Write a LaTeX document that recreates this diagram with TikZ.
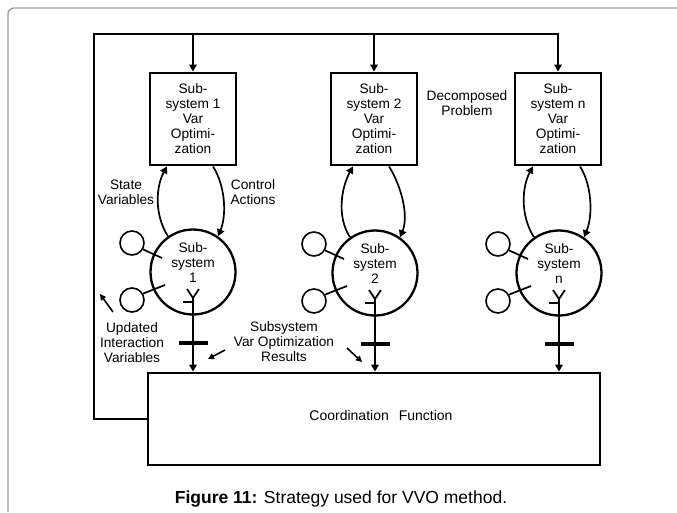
\documentclass[tikz,border=0pt]{standalone}
\usepackage{fontspec}
\setmainfont{Liberation Sans}
\usetikzlibrary{arrows.meta,calc}

\begin{document}
\begin{tikzpicture}[x=1pt,y=-1pt,
  lbl/.style={font=\fontsize{13.7}{15}\selectfont, align=center, inner sep=0pt},
  optbox/.style={draw, line width=2.8pt, minimum width=86pt, minimum height=92pt, inner sep=0pt, lbl},
  subsys/.style={draw, circle, line width=2.3pt, minimum size=85pt, inner sep=0pt},
  port/.style={draw, circle, line width=1.6pt, minimum size=24pt, inner sep=0pt},
  wire/.style={line width=1.7pt},
  tip/.style={-{Triangle[length=7pt,width=7.5pt]}},
  thinarrow/.style={line width=1.6pt, -{Triangle[length=6pt,width=6pt]}},
  bar/.style={line width=3.2pt},
  frame/.style={draw=black!40, line width=1.3pt, rounded corners=6pt}
]
\useasboundingbox (0,0) rectangle (677,512);

% figure frame
\draw[frame] (8,512) -- (8,8) -- (677,8);

% optimisation boxes
\node[optbox] (b1) at (193,119) {Sub-\\system 1\\Var\\Optimi-\\zation};
\node[optbox] (b2) at (374,119) {Sub-\\system 2\\Var\\Optimi-\\zation};
\node[optbox] (bn) at (558,119) {Sub-\\system n\\Var\\Optimi-\\zation};

% subsystems
\node[subsys, label={[lbl, yshift=9pt]center:Sub-\\system\\1}] (c1) at (193,272) {};
\node[subsys, label={[lbl, yshift=9pt]center:Sub-\\system\\2}] (c2) at (375,273) {};
\node[subsys, label={[lbl, yshift=9pt]center:Sub-\\system\\n}] (cn) at (559,273) {};

% coordination box
\node[draw, line width=2.8pt, minimum width=452pt, minimum height=92pt, inner sep=0pt] (main) at (374,419) {};
\node[lbl, font=\fontsize{14}{15}\selectfont] (cf) at (381,415) {Coordination\hspace{10pt}Function};

% feedback of updated interaction variables
\coordinate (tl) at (94,34);
\draw[wire, tip] (main.west) -| (tl) -| (bn.north);
\draw[wire, tip] (b1.north |- tl) -- (b1.north);
\draw[wire, tip] (b2.north |- tl) -- (b2.north);

% per-subsystem ports, arcs and outputs
\foreach \c/\b/\l/\r in {c1/b1/-26/20, c2/b2/-21/15, cn/bn/-25/22}{
  \node[port] (\c pa) at ($(\c)+(-61,-29)$) {};
  \node[port] (\c pb) at ($(\c)+(-61,28)$) {};
  \draw[wire] (\c pa.-30) -- ($(\c)+(-31,-14)$);
  \draw[wire] (\c pb.30) -- ($(\c)+(-28,13)$);
  % state variables up, control actions down
  \draw[wire, tip] (\c.125) .. controls +(-14,-22) and +(-11,20) .. ($(\b.south)+(\l,0)$);
  \draw[wire, tip] ($(\b.south)+(\r,0)$) .. controls +(12,19) and +(9,-22) .. (\c.55);
  % output symbol and result line
  \draw[wire] ($(\c)+(-6,17)$) -- ($(\c)+(0,26)$) -- ($(\c)+(6,17)$);
  \draw[wire] ($(\c)+(-10,30)$) -- ($(\c)+(0,30)$);
  \draw[wire, tip] ($(\c)+(0,26)$) -- (\c |- main.north);
  \draw[bar] ($(\c)+(-14,71)$) -- ($(\c)+(15,71)$);
}

% labels
\node[lbl] (sv) at (126,192) {State\\Variables};
\node[lbl] (ca) at (253,192) {Control\\Actions};
\node[lbl] (dp) at (467,103) {Decomposed\\Problem};
\node[lbl] (uiv) at (132,343) {Updated\\Interaction\\Variables};
\node[lbl] (svr) at (284,342) {Subsystem\\Var Optimization\\Results};

\coordinate (ua) at (113,312);
\coordinate (ub) at (100,294);
\draw[thinarrow] (ua) -- (ub);
\coordinate (ra) at (225,350);
\coordinate (rb) at (208,359);
\draw[thinarrow] (ra) -- (rb);
\coordinate (rc) at (347,348);
\coordinate (rd) at (362,362);
\draw[thinarrow] (rc) -- (rd);

% caption
\node[font=\fontsize{17.5}{20}\selectfont, inner sep=0pt] (cap) at (341,499)
  {\textbf{Figure 11:} Strategy used for VVO method.};
\end{tikzpicture}
\end{document}
